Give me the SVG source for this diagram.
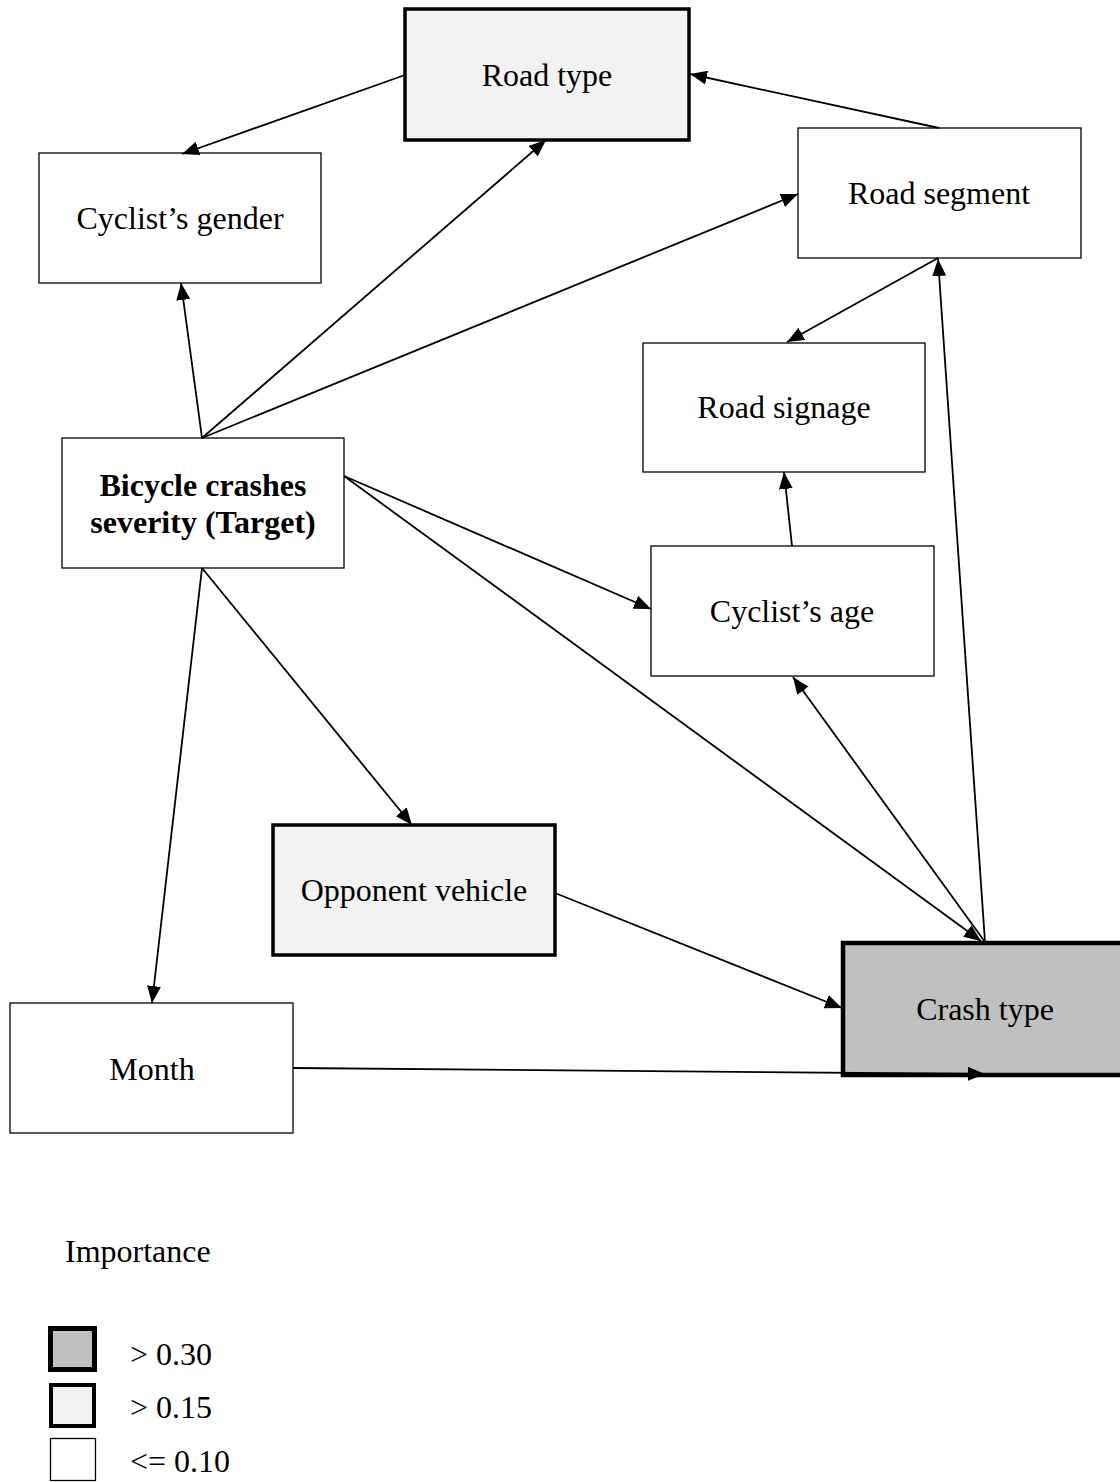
<svg xmlns="http://www.w3.org/2000/svg" width="1120" height="1482" viewBox="0 0 1120 1482">
<style>
.t{font-family:"Liberation Serif","Times New Roman",serif;font-size:32px;fill:#000;text-anchor:middle}
.b{font-weight:bold}
.n{fill:#fff;stroke:#000;stroke-width:1.3}
.m{fill:#f2f2f2;stroke:#000;stroke-width:3.5}
.h{fill:#c0c0c0;stroke:#000;stroke-width:4.5}
.e{stroke:#000;stroke-width:1.8;fill:none;marker-end:url(#a)}
.l{font-family:"Liberation Serif","Times New Roman",serif;font-size:32px;fill:#000}
</style>
<defs>
<marker id="a" markerUnits="userSpaceOnUse" markerWidth="18" markerHeight="14" refX="17" refY="7" orient="auto">
<path d="M0,0 L17,7 L0,14 z" fill="#000"/>
</marker>
</defs>
<rect width="1120" height="1482" fill="#fff"/>
<g id="road-type"><rect class="m" x="405" y="9" width="284" height="131"/><text class="t" x="547" y="86">Road type</text></g>
<g id="cyclist-gender"><rect class="n" x="39" y="153" width="282" height="130"/><text class="t" x="180" y="229">Cyclist’s gender</text></g>
<g id="road-segment"><rect class="n" x="798" y="128" width="283" height="130"/><text class="t" x="939" y="204">Road segment</text></g>
<g id="road-signage"><rect class="n" x="643" y="343" width="282" height="129"/><text class="t" x="784" y="418">Road signage</text></g>
<g id="target"><rect class="n" x="62" y="438" width="282" height="130"/><text class="t b" x="203" y="496">Bicycle crashes</text><text class="t b" x="203" y="533">severity (Target)</text></g>
<g id="cyclist-age"><rect class="n" x="651" y="546" width="283" height="130"/><text class="t" x="792" y="622">Cyclist’s age</text></g>
<g id="opponent-vehicle"><rect class="m" x="273" y="825" width="282" height="130"/><text class="t" x="414" y="901">Opponent vehicle</text></g>
<g id="crash-type"><rect class="h" x="843" y="943" width="285" height="132"/><text class="t" x="985" y="1020">Crash type</text></g>
<g id="month"><rect class="n" x="10" y="1003" width="283" height="130"/><text class="t" x="152" y="1080">Month</text></g>
<g id="connectors">
<line class="e" x1="405" y1="75" x2="182" y2="154"/>
<line class="e" x1="202" y1="438" x2="546" y2="140"/>
<line class="e" x1="202" y1="438" x2="181" y2="283"/>
<line class="e" x1="202" y1="438" x2="798" y2="194"/>
<line class="e" x1="939" y1="128" x2="690" y2="74"/>
<line class="e" x1="938" y1="258" x2="787" y2="342"/>
<line class="e" x1="792" y1="546" x2="784" y2="472"/>
<line class="e" x1="344" y1="476" x2="651" y2="609"/>
<line class="e" x1="344" y1="476" x2="981" y2="941"/>
<line class="e" x1="985" y1="942" x2="938" y2="259"/>
<line class="e" x1="985" y1="942" x2="793" y2="677"/>
<line class="e" x1="202" y1="568" x2="412" y2="825"/>
<line class="e" x1="202" y1="568" x2="152" y2="1003"/>
<line class="e" x1="555" y1="893" x2="842" y2="1008"/>
<line class="e" x1="293" y1="1068" x2="985" y2="1074"/>
</g>
<g id="legend">
<text class="l" x="65" y="1262">Importance</text>
<rect x="50.5" y="1328.5" width="44" height="41" fill="#c0c0c0" stroke="#000" stroke-width="5"/>
<rect x="51" y="1385" width="43" height="41" fill="#f2f2f2" stroke="#000" stroke-width="4"/>
<rect x="50.5" y="1438.5" width="45" height="42" fill="#fff" stroke="#000" stroke-width="1.3"/>
<text class="l" x="130" y="1365">&gt; 0.30</text>
<text class="l" x="130" y="1418">&gt; 0.15</text>
<text class="l" x="130" y="1472">&lt;= 0.10</text>
</g>
</svg>
